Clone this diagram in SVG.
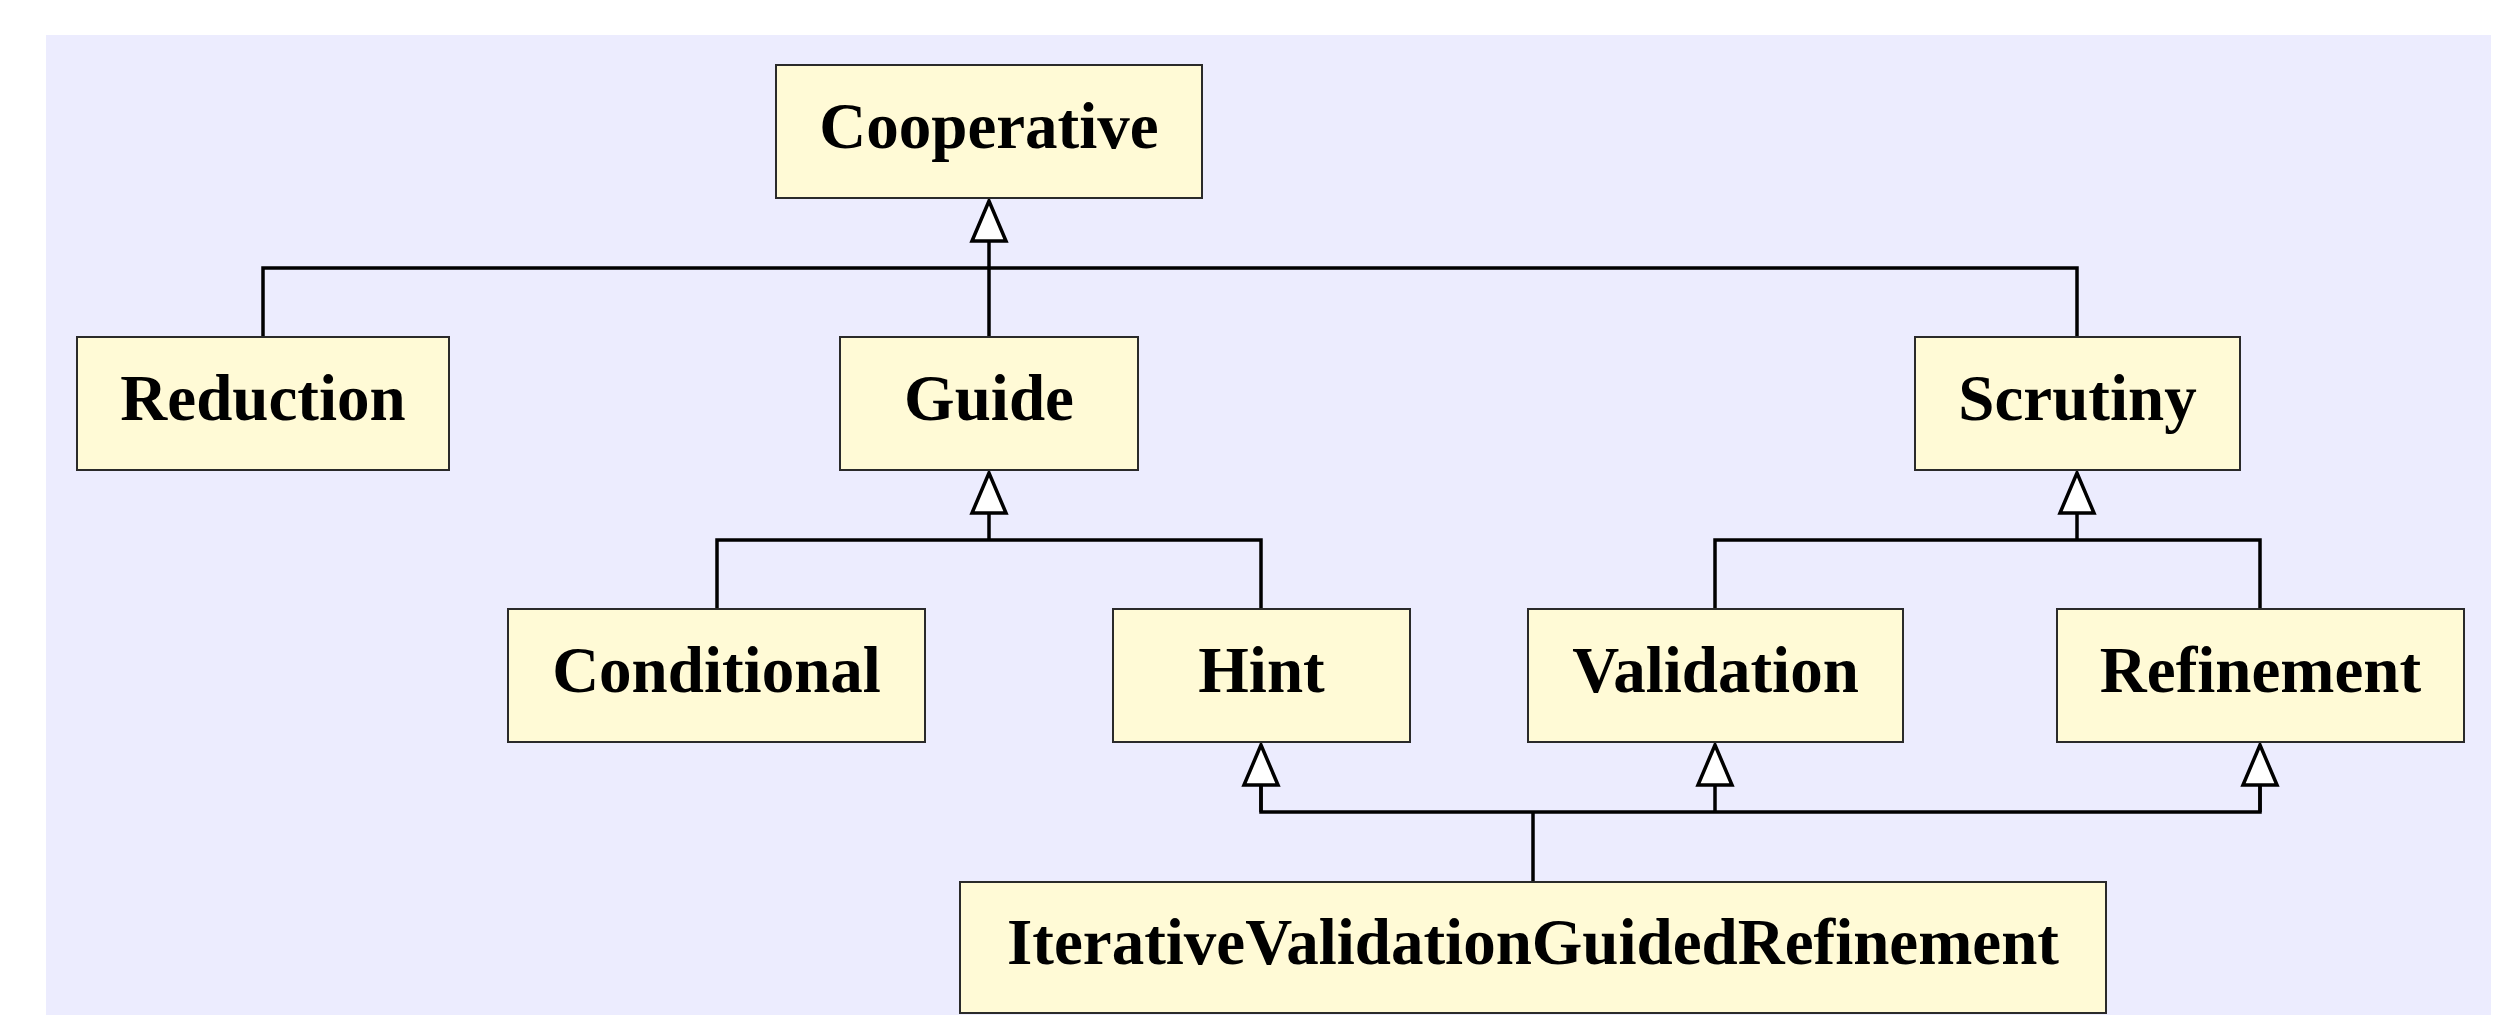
<svg xmlns="http://www.w3.org/2000/svg" width="2510" height="1015" viewBox="0 0 2510 1015">
<style>
.node rect{fill:#FFFAD6;stroke:#2a2a2a;stroke-width:2}
.node text{font-family:"Liberation Serif","Times New Roman",serif;font-weight:bold;font-size:65px;text-anchor:middle;fill:#000}
.edge{fill:none;stroke:#000;stroke-width:3.5;stroke-linejoin:miter}
</style>
<defs>
<marker id="tri" markerUnits="userSpaceOnUse" viewBox="-4 -4 50 50" markerWidth="50" markerHeight="50" refX="40" refY="20" orient="auto" overflow="visible">
<polygon points="40,20 0,3 0,37" fill="#fff" stroke="#000" stroke-width="3.5"/>
</marker>
</defs>
<rect x="0" y="0" width="2510" height="1015" fill="#fff"/>
<rect x="46" y="35" width="2445" height="980" fill="#ECECFE"/>
<g id="connectors">
<path class="edge" d="M263,337 L263,268 L2077,268 L2077,337"/>
<path class="edge" d="M989,337 L989,201" marker-end="url(#tri)"/>
<path class="edge" d="M717,609 L717,540 L1261,540 L1261,609"/>
<path class="edge" d="M989,540 L989,473" marker-end="url(#tri)"/>
<path class="edge" d="M1715,609 L1715,540 L2260,540 L2260,609"/>
<path class="edge" d="M2077,540 L2077,473" marker-end="url(#tri)"/>
<path class="edge" d="M1261,745 L1261,812 L2260,812 L2260,745"/>
<path class="edge" d="M1533,882 L1533,812"/>
<path class="edge" d="M1261,812 L1261,745" marker-end="url(#tri)"/>
<path class="edge" d="M1715,812 L1715,745" marker-end="url(#tri)"/>
<path class="edge" d="M2260,812 L2260,745" marker-end="url(#tri)"/>
</g>
<g id="Cooperative" class="node"><rect x="776" y="65" width="426" height="133"/><text x="989" y="148">Cooperative</text></g>
<g id="Reduction" class="node"><rect x="77" y="337" width="372" height="133"/><text x="263" y="420">Reduction</text></g>
<g id="Guide" class="node"><rect x="840" y="337" width="298" height="133"/><text x="989" y="420">Guide</text></g>
<g id="Scrutiny" class="node"><rect x="1915" y="337" width="325" height="133"/><text x="2077.5" y="420">Scrutiny</text></g>
<g id="Conditional" class="node"><rect x="508" y="609" width="417" height="133"/><text x="716.5" y="692">Conditional</text></g>
<g id="Hint" class="node"><rect x="1113" y="609" width="297" height="133"/><text x="1261.5" y="692">Hint</text></g>
<g id="Validation" class="node"><rect x="1528" y="609" width="375" height="133"/><text x="1715.5" y="692">Validation</text></g>
<g id="Refinement" class="node"><rect x="2057" y="609" width="407" height="133"/><text x="2260.5" y="692">Refinement</text></g>
<g id="IterativeValidationGuidedRefinement" class="node"><rect x="960" y="882" width="1146" height="131"/><text x="1533" y="964">IterativeValidationGuidedRefinement</text></g>
</svg>
